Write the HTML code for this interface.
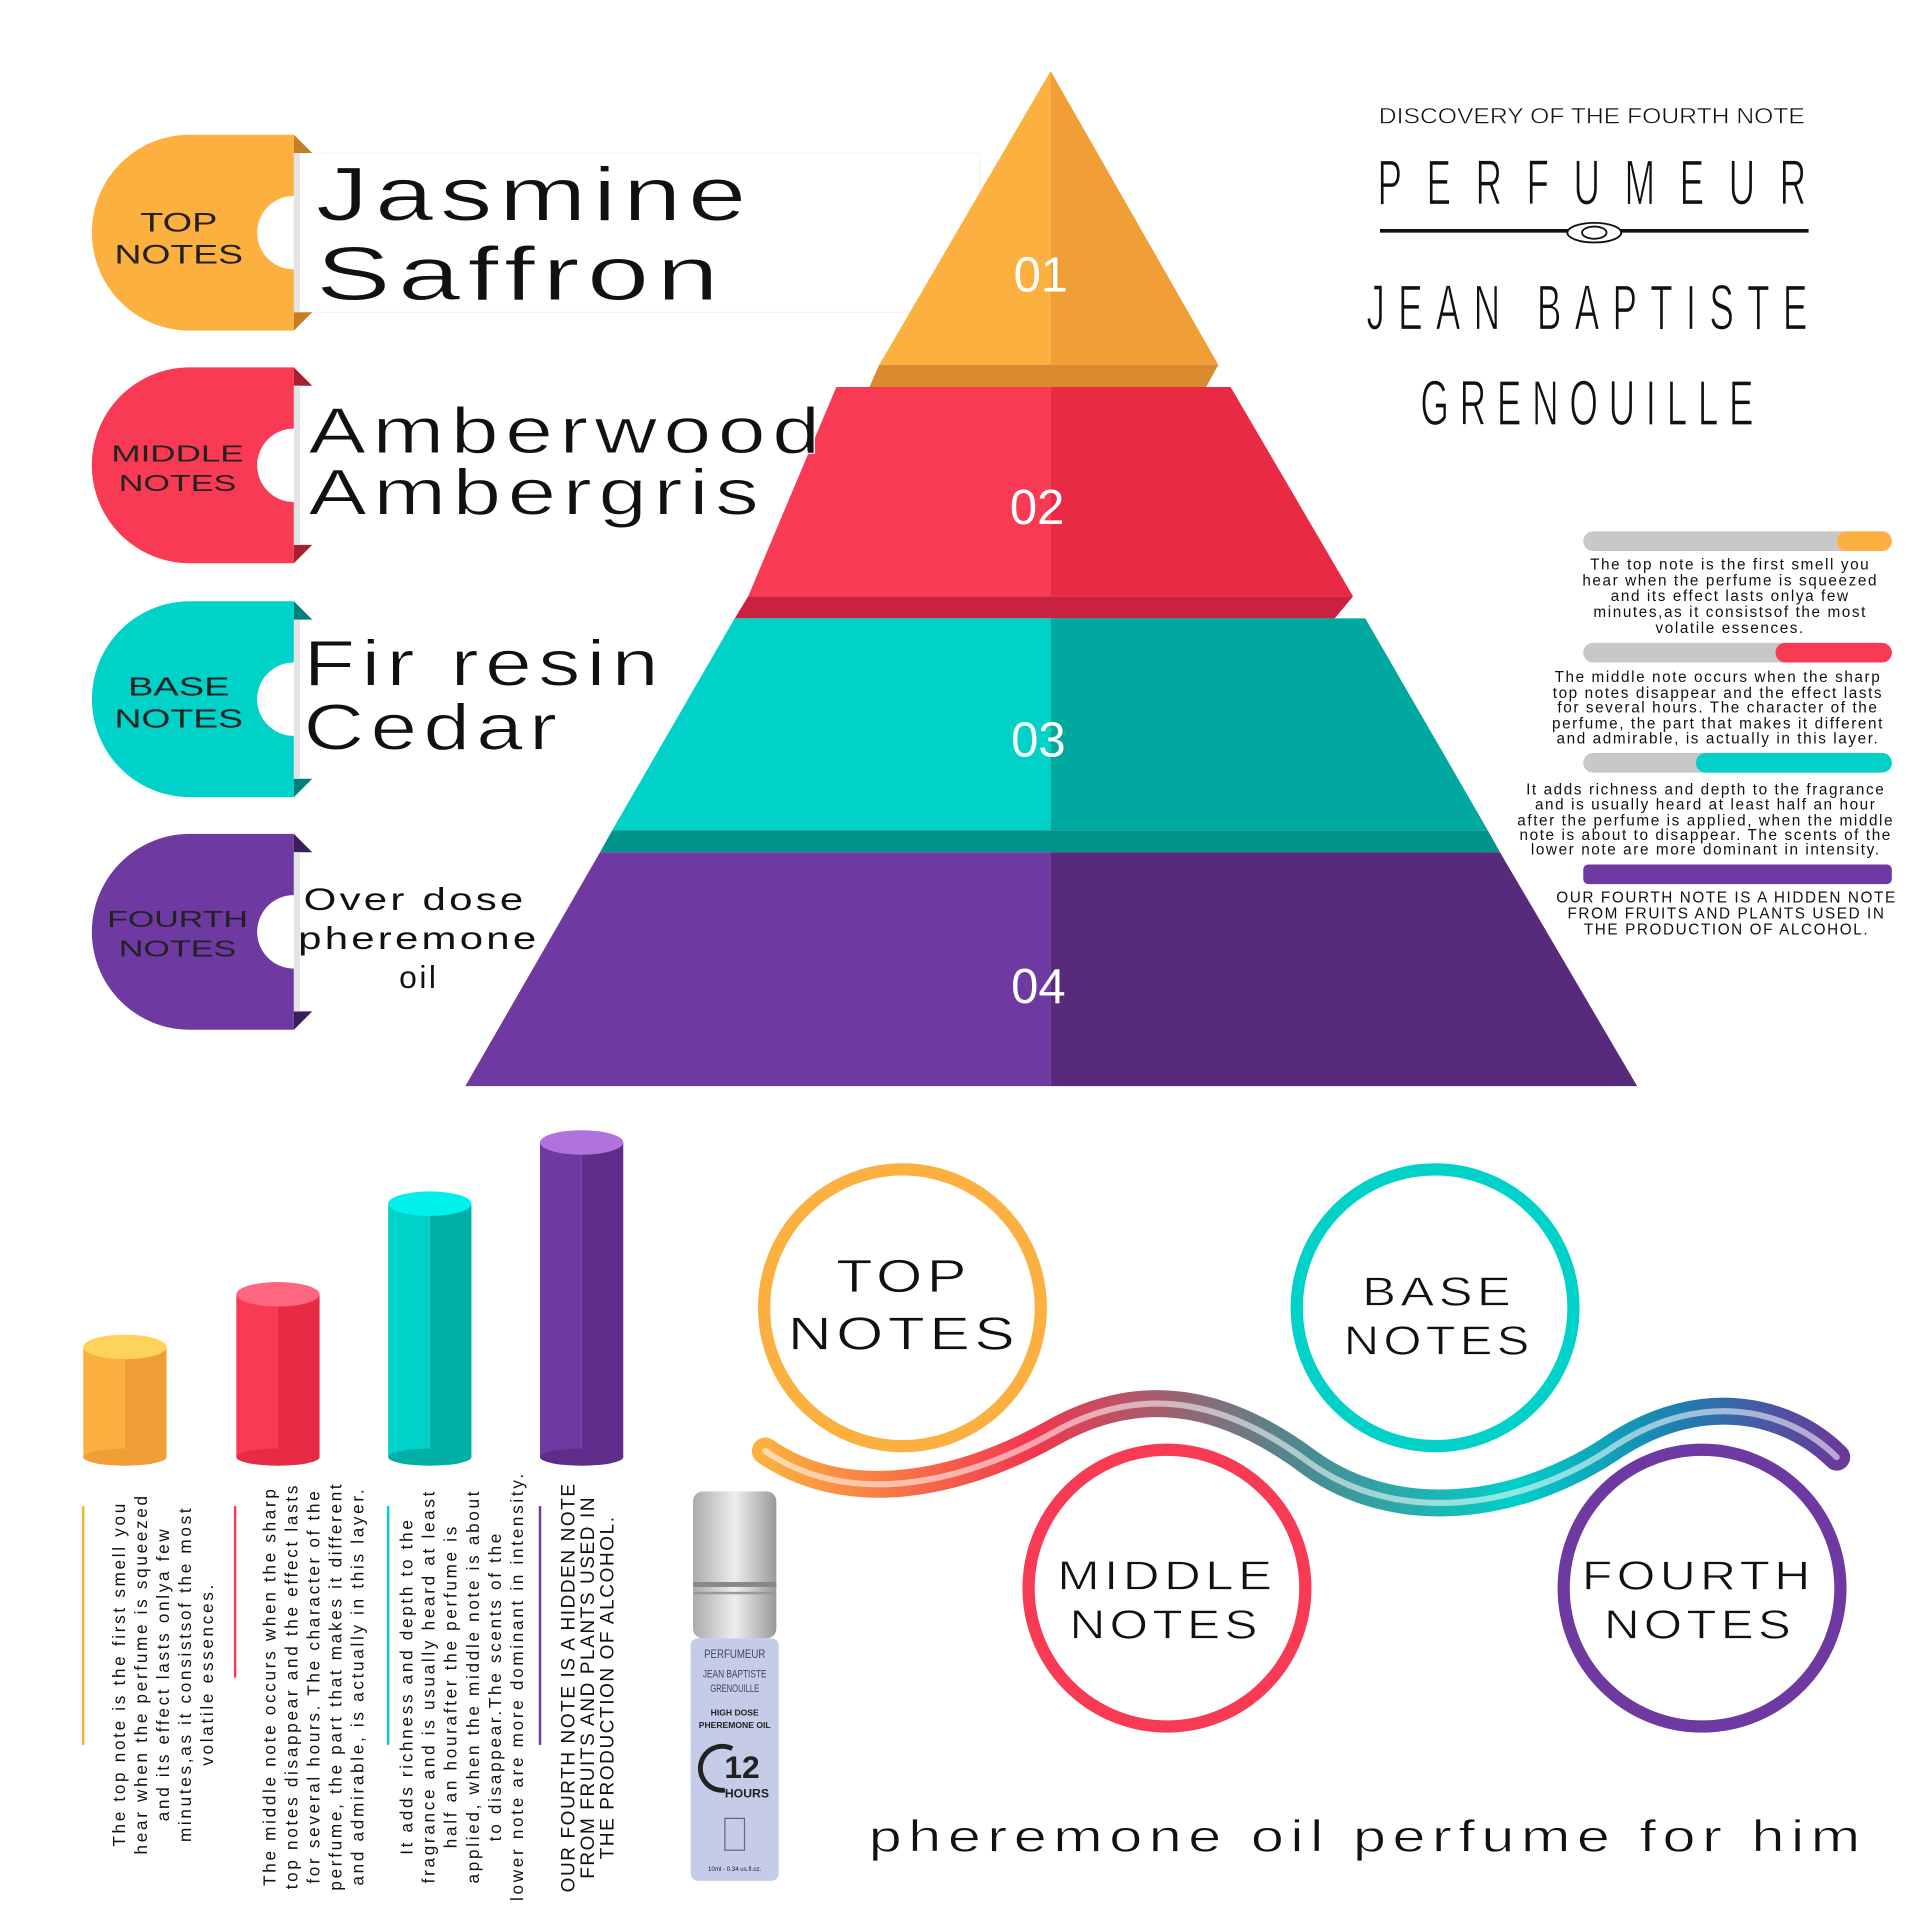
<!DOCTYPE html>
<html><head><meta charset="utf-8"><style>html,body{margin:0;padding:0;background:#fff}svg{display:block}text{font-family:"Liberation Sans",sans-serif}</style></head><body>
<svg width="1920" height="1920" viewBox="0 0 1568 1568" xmlns="http://www.w3.org/2000/svg">
<defs>
<linearGradient id="wave" x1="625" y1="0" x2="1500" y2="0" gradientUnits="userSpaceOnUse">
<stop offset="0" stop-color="#FBB040"/><stop offset="0.25" stop-color="#F2374F"/><stop offset="0.5" stop-color="#4C8A90"/><stop offset="0.7" stop-color="#00CFC8"/><stop offset="0.85" stop-color="#1E7FB0"/><stop offset="1" stop-color="#6A3A9A"/>
</linearGradient>
<linearGradient id="bottle" x1="0" y1="0" x2="1" y2="0"><stop offset="0" stop-color="#aaa"/><stop offset="0.5" stop-color="#eee"/><stop offset="1" stop-color="#999"/></linearGradient>
</defs>
<rect width="1568" height="1568" fill="#fff"/>

<rect x="240" y="125" width="560" height="130" fill="#fff" stroke="#f3f3f3"/>

<!-- pyramid -->
<polygon points="858,58 718,298 858,298" fill="#FBB040"/>
<polygon points="858,58 995,298 858,298" fill="#F29E37"/>
<polygon points="718,298 995,298 985,316 710,316" fill="#D98A2E"/>
<polygon points="683,316 858,316 858,487 611,487" fill="#F83A54"/>
<polygon points="858,316 1005,316 1105,487 858,487" fill="#E82A45"/>
<polygon points="611,487 1105,487 1090,505 600,505" fill="#C82240"/>
<polygon points="600,505 858,505 858,678 500,678" fill="#00D1C9"/>
<polygon points="858,505 1115,505 1215,678 858,678" fill="#00A89F"/>
<polygon points="500,678 1215,678 1225,696 490,696" fill="#00938C"/>
<polygon points="490,696 858,696 858,887 380,887" fill="#6E39A0"/>
<polygon points="858,696 1225,696 1337,887 858,887" fill="#572A7C"/>
<g fill="#fff" font-size="40" text-anchor="middle" style="font-family:'DejaVu Sans',sans-serif">
<text x="850" y="238">01</text><text x="847" y="428">02</text><text x="848" y="618">03</text><text x="848" y="819">04</text></g>

<!-- left tabs -->
<g stroke="#fff" stroke-width="0.8">
<path d="M240,110 L155,110 A80,80 0 0 0 155,270 L240,270 L240,220 A30,30 0 0 1 240,160 Z" fill="#FBB040" stroke="none"/>
<polygon points="240,110 255,125 240,125" fill="#C47F25" stroke="none"/><polygon points="240,270 255,255 240,255" fill="#C47F25" stroke="none"/>
<rect x="240" y="125" width="5" height="130" fill="#e4e4e4" stroke="none"/>
<text x="146" y="189" font-size="22" text-anchor="middle" textLength="63" lengthAdjust="spacingAndGlyphs" fill="#222" stroke="none">TOP</text>
<text x="146" y="215" font-size="22" text-anchor="middle" textLength="105" lengthAdjust="spacingAndGlyphs" fill="#222" stroke="none">NOTES</text>
<text x="258" y="180" font-size="62" letter-spacing="4" textLength="357" lengthAdjust="spacingAndGlyphs" fill="#111">Jasmine</text>
<text x="258" y="245" font-size="62" letter-spacing="4" textLength="335" lengthAdjust="spacingAndGlyphs" fill="#111">Saffron</text>
</g>
<g stroke="#fff" stroke-width="0.8">
<path d="M240,300 L155,300 A80,80 0 0 0 155,460 L240,460 L240,410 A30,30 0 0 1 240,350 Z" fill="#F83A54" stroke="none"/>
<polygon points="240,300 255,315 240,315" fill="#A8202F" stroke="none"/><polygon points="240,460 255,445 240,445" fill="#A8202F" stroke="none"/>
<rect x="240" y="315" width="5" height="130" fill="#e4e4e4" stroke="none"/>
<text x="145" y="377" font-size="19" text-anchor="middle" textLength="108" lengthAdjust="spacingAndGlyphs" fill="#222" stroke="none">MIDDLE</text>
<text x="145" y="401" font-size="19" text-anchor="middle" textLength="96" lengthAdjust="spacingAndGlyphs" fill="#222" stroke="none">NOTES</text>
<text x="252" y="370" font-size="53" letter-spacing="4" textLength="423" lengthAdjust="spacingAndGlyphs" fill="#111">Amberwood</text>
<text x="252" y="420" font-size="53" letter-spacing="4" textLength="373" lengthAdjust="spacingAndGlyphs" fill="#111">Ambergris</text>
</g>
<g stroke="#fff" stroke-width="0.8">
<path d="M240,491 L155,491 A80,80 0 0 0 155,651 L240,651 L240,601 A30,30 0 0 1 240,541 Z" fill="#00D1C9" stroke="none"/>
<polygon points="240,491 255,506 240,506" fill="#00807A" stroke="none"/><polygon points="240,651 255,636 240,636" fill="#00807A" stroke="none"/>
<rect x="240" y="506" width="5" height="130" fill="#e4e4e4" stroke="none"/>
<text x="146" y="568" font-size="21" text-anchor="middle" textLength="83" lengthAdjust="spacingAndGlyphs" fill="#222" stroke="none">BASE</text>
<text x="146" y="594" font-size="21" text-anchor="middle" textLength="105" lengthAdjust="spacingAndGlyphs" fill="#222" stroke="none">NOTES</text>
<text x="248" y="560" font-size="53" letter-spacing="4" textLength="295" lengthAdjust="spacingAndGlyphs" fill="#111">Fir resin</text>
<text x="248" y="612" font-size="53" letter-spacing="4" textLength="212" lengthAdjust="spacingAndGlyphs" fill="#111">Cedar</text>
</g>
<g>
<path d="M240,681 L155,681 A80,80 0 0 0 155,841 L240,841 L240,791 A30,30 0 0 1 240,731 Z" fill="#6E39A0"/>
<polygon points="240,681 255,696 240,696" fill="#3C1D5C"/><polygon points="240,841 255,826 240,826" fill="#3C1D5C"/>
<rect x="240" y="696" width="5" height="130" fill="#e4e4e4"/>
<text x="145" y="757" font-size="19" text-anchor="middle" textLength="115" lengthAdjust="spacingAndGlyphs" fill="#222">FOURTH</text>
<text x="145" y="781" font-size="19" text-anchor="middle" textLength="96" lengthAdjust="spacingAndGlyphs" fill="#222">NOTES</text>
<g font-size="26" text-anchor="middle" fill="#111" letter-spacing="2">
<text x="339" y="743" textLength="182" lengthAdjust="spacingAndGlyphs">Over dose</text><text x="342" y="775" textLength="197" lengthAdjust="spacingAndGlyphs">pheremone</text><text x="342" y="807">oil</text></g>
</g>

<!-- title -->
<g text-anchor="middle" fill="#111" stroke="#fff" stroke-width="0.6">
<text transform="translate(1300,101) scale(1,1.4)" font-size="13" textLength="348" lengthAdjust="spacingAndGlyphs" stroke-width="0.3">DISCOVERY OF THE FOURTH NOTE</text>
<text transform="translate(1300,167) scale(1,1.75)" font-size="30" textLength="350">PERFUMEUR</text>
<text transform="translate(1296,269) scale(1,1.75)" font-size="30" textLength="360">JEAN BAPTISTE</text>
<text transform="translate(1296,347) scale(1,1.75)" font-size="30" textLength="272">GRENOUILLE</text>
</g>
<rect x="1127" y="187" width="350" height="3" fill="#111"/>
<ellipse cx="1302" cy="190" rx="22" ry="8" fill="#fff" stroke="#111" stroke-width="1.5"/>
<ellipse cx="1302" cy="190" rx="10" ry="5" fill="none" stroke="#111" stroke-width="1.5"/>

<!-- right bars -->
<g>
<rect x="1293" y="434" width="252" height="16" rx="8" fill="#c8c8c8"/><rect x="1500" y="434" width="45" height="16" rx="8" fill="#FBB040"/>
<rect x="1293" y="525" width="252" height="16" rx="8" fill="#c8c8c8"/><rect x="1450" y="525" width="95" height="16" rx="8" fill="#F83A54"/>
<rect x="1293" y="615" width="252" height="16" rx="8" fill="#c8c8c8"/><rect x="1385" y="615" width="160" height="16" rx="8" fill="#00D1C9"/>
<rect x="1293" y="706" width="252" height="16" rx="4" fill="#6E39A0"/>
<g font-size="12.5" text-anchor="middle" fill="#111" letter-spacing="1.3">
<text x="1413" y="465">The top note is the first smell you</text>
<text x="1413" y="478">hear when the perfume is squeezed</text>
<text x="1413" y="491">and its effect lasts onlya few</text>
<text x="1413" y="504">minutes,as it consistsof the most</text>
<text x="1413" y="517">volatile essences.</text>
<text x="1403" y="557">The middle note occurs when the sharp</text>
<text x="1403" y="570">top notes disappear and the effect lasts</text>
<text x="1403" y="582">for several hours. The character of the</text>
<text x="1403" y="595">perfume, the part that makes it different</text>
<text x="1403" y="607">and admirable, is actually in this layer.</text>
<text x="1393" y="649">It adds richness and depth to the fragrance</text>
<text x="1393" y="661">and is usually heard at least half an hour</text>
<text x="1393" y="674">after the perfume is applied, when the middle</text>
<text x="1393" y="686">note is about to disappear. The scents of the</text>
<text x="1393" y="698">lower note are more dominant in intensity.</text>
<text x="1410" y="737">OUR FOURTH NOTE IS A HIDDEN NOTE</text>
<text x="1410" y="750">FROM FRUITS AND PLANTS USED IN</text>
<text x="1410" y="763">THE PRODUCTION OF ALCOHOL.</text>
</g></g>

<!-- cylinders -->
<g>
<rect x="68" y="1100" width="34" height="90" fill="#FBB040"/><rect x="102" y="1100" width="34" height="90" fill="#F29E37"/>
<ellipse cx="102" cy="1190" rx="34" ry="7" fill="#F29E37"/><ellipse cx="102" cy="1100" rx="34" ry="10" fill="#FDD35A"/>
<rect x="193" y="1057" width="34" height="133" fill="#F83A54"/><rect x="227" y="1057" width="34" height="133" fill="#E82A45"/>
<ellipse cx="227" cy="1190" rx="34" ry="7" fill="#E82A45"/><ellipse cx="227" cy="1057" rx="34" ry="10" fill="#FF6680"/>
<rect x="317" y="983" width="34" height="207" fill="#00D1C9"/><rect x="351" y="983" width="34" height="207" fill="#00B0A8"/>
<ellipse cx="351" cy="1190" rx="34" ry="7" fill="#00B0A8"/><ellipse cx="351" cy="983" rx="34" ry="10" fill="#00F0EC"/>
<rect x="441" y="933" width="34" height="257" fill="#6E39A0"/><rect x="475" y="933" width="34" height="257" fill="#5E2D8A"/>
<ellipse cx="475" cy="1190" rx="34" ry="7" fill="#5E2D8A"/><ellipse cx="475" cy="933" rx="34" ry="10" fill="#B072DC"/>
</g>
<rect x="67" y="1230" width="2" height="195" fill="#F4B13C"/>
<rect x="191" y="1230" width="2" height="140" fill="#F83A54"/>
<rect x="316" y="1230" width="2" height="195" fill="#00D1C9"/>
<rect x="440" y="1230" width="2" height="195" fill="#6E39A0"/>
<g font-size="14" text-anchor="middle" fill="#111" letter-spacing="2.2">
<g transform="translate(0,1367) rotate(-90)">
<text x="0" y="102">The top note is the first smell you</text>
<text x="0" y="120">hear when the perfume is squeezed</text>
<text x="0" y="138">and its effect lasts onlya few</text>
<text x="0" y="156">minutes,as it consistsof the most</text>
<text x="0" y="174">volatile essences.</text></g>
<g transform="translate(0,1377) rotate(-90)">
<text x="0" y="225">The middle note occurs when the sharp</text>
<text x="0" y="243">top notes disappear and the effect lasts</text>
<text x="0" y="261">for several hours. The character of the</text>
<text x="0" y="279">perfume, the part that makes it different</text>
<text x="0" y="297">and admirable, is actually in this layer.</text></g>
<g transform="translate(0,1377) rotate(-90)">
<text x="0" y="337">It adds richness and depth to the</text>
<text x="0" y="355">fragrance and is usually heard at least</text>
<text x="0" y="373">half an hourafter the perfume is</text>
<text x="0" y="391">applied, when the middle note is about</text>
<text x="0" y="409">to disappear.The scents of the</text>
<text x="0" y="427">lower note are more dominant in intensity.</text></g>
<g transform="translate(0,1378) rotate(-90)" font-size="15.5" letter-spacing="1.3">
<text x="0" y="469">OUR FOURTH NOTE IS A HIDDEN NOTE</text>
<text x="0" y="485">FROM FRUITS AND PLANTS USED IN</text>
<text x="0" y="501">THE PRODUCTION OF ALCOHOL.</text></g>
</g>

<!-- bottle -->
<g>
<rect x="566" y="1218" width="68" height="120" rx="8" fill="url(#bottle)"/>
<rect x="566" y="1292" width="68" height="4" fill="#888"/>
<rect x="566" y="1300" width="68" height="2" fill="#999"/>
<rect x="564" y="1338" width="72" height="198" rx="6" fill="#C4CCE8"/>
<g fill="#445" text-anchor="middle">
<text x="600" y="1354" font-size="10" textLength="50" lengthAdjust="spacingAndGlyphs">PERFUMEUR</text>
<text x="600" y="1370" font-size="9" textLength="52" lengthAdjust="spacingAndGlyphs">JEAN BAPTISTE</text>
<text x="600" y="1382" font-size="9" textLength="40" lengthAdjust="spacingAndGlyphs">GRENOUILLE</text>
<text x="600" y="1401" font-size="7" font-weight="bold" fill="#222">HIGH DOSE</text>
<text x="600" y="1411" font-size="7" font-weight="bold" fill="#222">PHEREMONE OIL</text>
<text x="606" y="1452" font-size="26" font-weight="bold" fill="#222">12</text>
<text x="610" y="1468" font-size="10" font-weight="bold" fill="#222">HOURS</text>
<text x="600" y="1528" font-size="5" fill="#222">10ml - 0.34 us.fl.oz.</text></g>
<path d="M598,1428 A18,18 0 1 0 592,1462" fill="none" stroke="#222" stroke-width="4"/>
<rect x="592" y="1485" width="16" height="26" fill="none" stroke="#667" stroke-width="1"/>
</g>

<!-- wave -->
<path d="M625,1185 C690,1230 780,1215 860,1170 C940,1125 1010,1150 1070,1195 C1140,1245 1240,1235 1320,1180 C1390,1135 1460,1150 1500,1190" fill="none" stroke="url(#wave)" stroke-width="22" stroke-linecap="round"/>
<path d="M625,1185 C690,1230 780,1215 860,1170 C940,1125 1010,1150 1070,1195 C1140,1245 1240,1235 1320,1180 C1390,1135 1460,1150 1500,1190" fill="none" stroke="#fff" stroke-opacity="0.55" stroke-width="5" stroke-linecap="round"/>

<!-- circles -->
<g fill="#fff" stroke-width="10">
<circle cx="737" cy="1068" r="113" stroke="#FBB040"/>
<circle cx="1172" cy="1068" r="113" stroke="#00D1C9"/>
<circle cx="953" cy="1297" r="113" stroke="#F83A54"/>
<circle cx="1390" cy="1297" r="113" stroke="#6E39A0"/>
</g>
<g text-anchor="middle" fill="#111" letter-spacing="3" stroke="#fff" stroke-width="0.6">
<text x="738" y="1055" font-size="38" textLength="110" lengthAdjust="spacingAndGlyphs">TOP</text><text x="738" y="1102" font-size="38" textLength="189" lengthAdjust="spacingAndGlyphs">NOTES</text>
<text x="1175" y="1066" font-size="33" textLength="125" lengthAdjust="spacingAndGlyphs">BASE</text><text x="1175" y="1106" font-size="33" textLength="155" lengthAdjust="spacingAndGlyphs">NOTES</text>
<text x="953" y="1298" font-size="33" textLength="179" lengthAdjust="spacingAndGlyphs">MIDDLE</text><text x="952" y="1338" font-size="33" textLength="157" lengthAdjust="spacingAndGlyphs">NOTES</text>
<text x="1387" y="1298" font-size="33" textLength="190" lengthAdjust="spacingAndGlyphs">FOURTH</text><text x="1388" y="1338" font-size="33" textLength="156" lengthAdjust="spacingAndGlyphs">NOTES</text>
</g>
<text x="1117" y="1512" font-size="36" letter-spacing="4" text-anchor="middle" textLength="815" lengthAdjust="spacingAndGlyphs" fill="#111" stroke="#fff" stroke-width="0.6">pheremone oil perfume for him</text>
</svg>
</body></html>
